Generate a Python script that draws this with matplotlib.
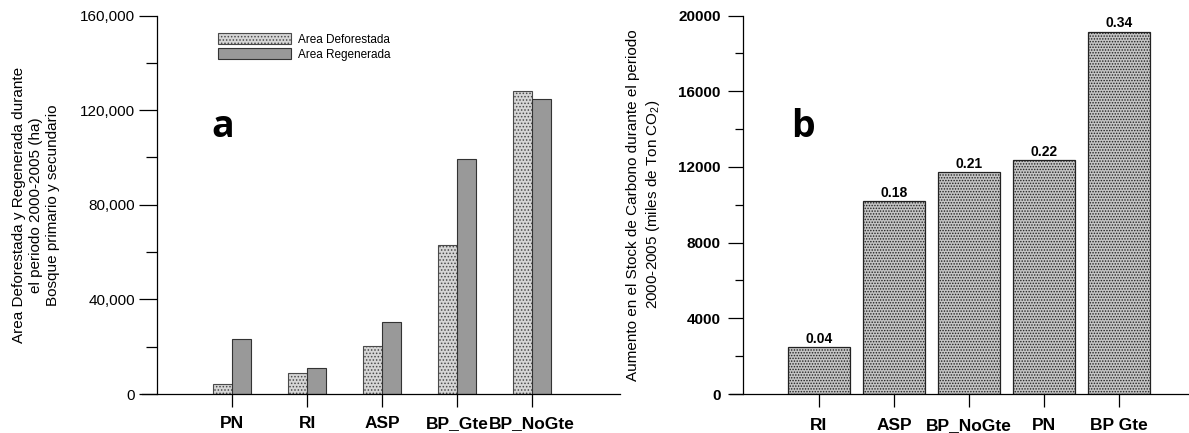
import numpy as np
import matplotlib
matplotlib.use("Agg")
import matplotlib.pyplot as plt
from matplotlib.patches import Patch

plt.rcParams['font.family'] = ['Liberation Sans', 'DejaVu Sans']
plt.rcParams['mathtext.fontset'] = 'custom'
plt.rcParams['mathtext.rm'] = 'Liberation Sans'
plt.rcParams['mathtext.it'] = 'Liberation Sans:italic'
plt.rcParams['hatch.linewidth'] = 0.7

# panel a data
cats_a = ['PN', 'RI', 'ASP', 'BP_Gte', 'BP_NoGte']
deforestada = [4300, 8900, 20100, 63100, 127900]
regenerada = [23200, 11100, 30400, 99400, 124800]

# panel b data
cats_b = ['RI', 'ASP', 'BP_NoGte', 'PN', 'BP Gte']
carbono = [2460, 10190, 11730, 12350, 19150]
ratio_b = ['0.04', '0.18', '0.21', '0.22', '0.34']

W, H = 1189, 433
fig = plt.figure(figsize=(W / 100, H / 100), dpi=100)

ax1 = fig.add_axes([157 / W, (H - 394) / H, 463 / W, 378.5 / H])
ax2 = fig.add_axes([743 / W, (H - 394) / H, 446 / W, 378.5 / H])

# ---- panel a
x = np.arange(len(cats_a))
bw = 0.253
ax1.bar(x - bw / 2, deforestada, bw, color='#d6d6d6', edgecolor='#4a4a4a',
        hatch='.....', linewidth=0.8)
ax1.bar(x + bw / 2, regenerada, bw, color='#999999', edgecolor='#333333',
        linewidth=0.8)
ax1.set_xlim(-1.0, 5.173)
ax1.set_ylim(0, 160000)
ax1.set_xticks(x)
ax1.set_xticklabels(cats_a, fontsize=12.5, fontweight='bold')
ax1.set_yticks([0, 40000, 80000, 120000, 160000])
ax1.set_yticklabels(['{:,}'.format(v) for v in [0, 40000, 80000, 120000, 160000]], fontsize=11)
ax1.set_yticks([20000, 60000, 100000, 140000], minor=True)
ax1.tick_params(axis='y', which='major', length=13, width=0.9, pad=3)
ax1.tick_params(axis='y', which='minor', length=8, width=0.9)
ax1.tick_params(axis='x', length=9, width=0.9, pad=7)
for s in ['top', 'right', 'bottom']:
    ax1.spines[s].set_visible(False)
ax1.spines['left'].set_linewidth(0.9)
ax1.plot([-1.2, 5.173], [0, 0], color='black', linewidth=0.9, clip_on=False)
ax1.set_ylabel('Area Deforestada y Regenerada durante\nel periodo 2000-2005 (ha)\nBosque primario y secundario',
               fontsize=11, va='center', linespacing=1.3)
ax1.yaxis.set_label_coords(-0.261, 0.5)
ax1.text(223 / W, 1 - 137 / H, 'a', transform=fig.transFigure, ha='center', va='baseline',
         fontsize=27, fontweight='bold', family='Open Sans')

handles = [Patch(facecolor='#d6d6d6', edgecolor='#4a4a4a', hatch='.....', linewidth=0.8),
           Patch(facecolor='#999999', edgecolor='#333333', linewidth=0.8)]
ax1.legend(handles, ['Area Deforestada', 'Area Regenerada'], loc='upper left',
           bbox_to_anchor=(218 / W, 1 - 33 / H), bbox_transform=fig.transFigure,
           frameon=False, fontsize=8.5, handlelength=6.2, handleheight=1.1,
           handletextpad=0.6, labelspacing=0.2, borderpad=0, borderaxespad=0)

# ---- panel b
xb = np.arange(len(cats_b))
bars = ax2.bar(xb, carbono, 0.82, color='#c4c4c4', edgecolor='#222222',
               hatch='......', linewidth=0.9)
ax2.bar_label(bars, labels=ratio_b, padding=1, fontsize=10, fontweight='bold')
ax2.set_xlim(-1.013, 4.933)
ax2.set_ylim(0, 20000)
ax2.set_xticks(xb)
ax2.set_xticklabels(cats_b, fontsize=12.5, fontweight='bold')
ax2.set_yticks([0, 4000, 8000, 12000, 16000, 20000])
ax2.set_yticklabels(['0', '4000', '8000', '12000', '16000', '20000'], fontsize=11, fontweight='bold')
ax2.set_yticks([2000, 6000, 10000, 14000, 18000], minor=True)
ax2.tick_params(axis='y', which='major', length=11, width=0.9, pad=5)
ax2.tick_params(axis='y', which='minor', length=6, width=0.9)
ax2.tick_params(axis='x', length=9, width=0.9, pad=8)
for s in ['top', 'right', 'bottom']:
    ax2.spines[s].set_visible(False)
ax2.spines['left'].set_linewidth(0.9)
ax2.plot([-1.187, 4.933], [0, 0], color='black', linewidth=0.9, clip_on=False)
ax2.set_ylabel('Aumento en el Stock de Carbono durante el periodo\n2000-2005 (miles de Ton CO$_2$)',
               fontsize=11, va='center', linespacing=1.3)
ax2.yaxis.set_label_coords(-0.222, 0.5)
ax2.text(803 / W, 1 - 137 / H, 'b', transform=fig.transFigure, ha='center', va='baseline',
         fontsize=27, fontweight='bold', family='Open Sans')

fig.savefig('out.png', dpi=100)
